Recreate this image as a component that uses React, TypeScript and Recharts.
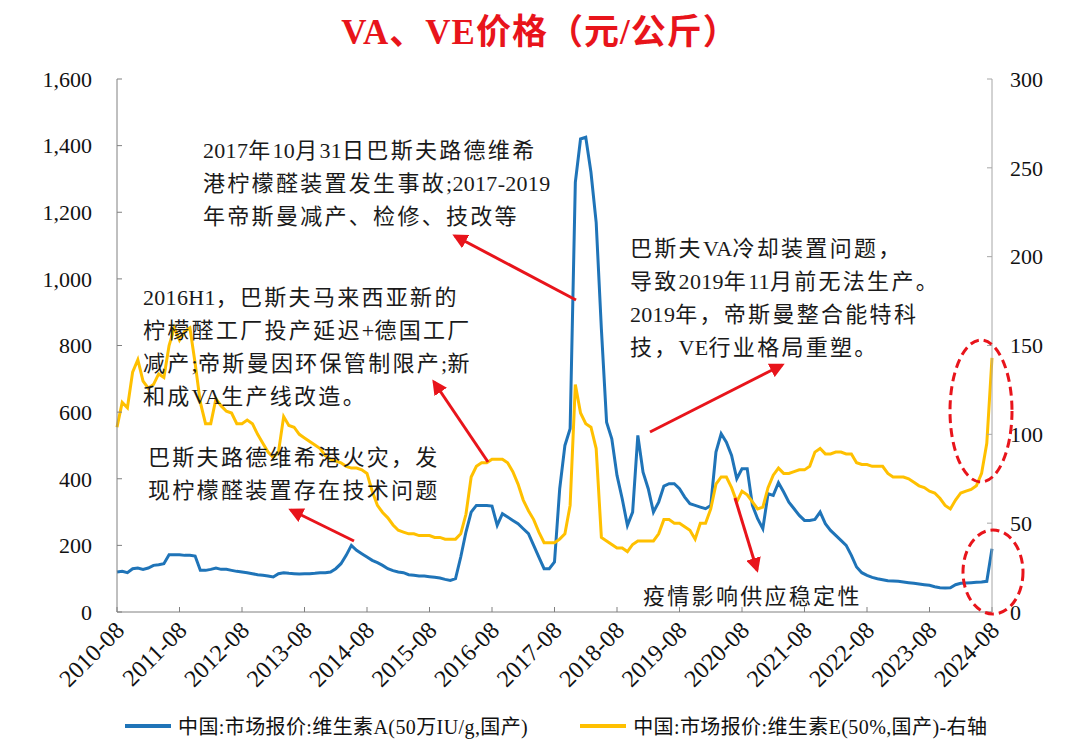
import { LineChart, Line, XAxis, YAxis } from 'recharts'

const FONT = '"Liberation Serif", "Times New Roman", "Noto Sans CJK SC", serif'
const BLUE = '#1f74b8'
const GOLD = '#ffc000'
const RED = '#e8141b'

// monthly categories 2010-08 .. 2024-08
const months: string[] = []
for (let i = 0; i <= 168; i++) {
  const t = 2010 * 12 + 7 + i
  months.push(`${Math.floor(t / 12)}-${String((t % 12) + 1).padStart(2, '0')}`)
}

// 维生素A (50万IU/g) 元/公斤, left axis
const vaPrice = [
  120, 122, 118, 130, 132, 128, 132, 140, 142, 145,
  172, 172, 172, 170, 170, 168, 125, 125, 128, 132,
  128, 128, 125, 122, 120, 118, 115, 112, 110, 108,
  105, 115, 118, 116, 115, 114, 115, 115, 116, 118,
  118, 120, 130, 145, 170, 200, 185, 175, 165, 155,
  148, 140, 130, 124, 120, 118, 112, 110, 108, 108,
  106, 104, 102, 98, 95, 100, 165, 240, 300, 320,
  320, 320, 318, 260, 295, 285, 275, 265, 250, 235,
  200, 165, 130, 130, 150, 370, 500, 550, 1290, 1420,
  1425, 1320, 1170, 850, 570, 520, 410, 340, 260, 300,
  530, 420, 370, 300, 330, 378, 385, 385, 370, 345,
  325, 320, 315, 310, 320, 480, 535, 510, 470, 400,
  430, 430, 320, 280, 250, 355, 350, 388, 360, 330,
  310, 290, 275, 275, 278, 300, 265, 245, 230, 215,
  200, 170, 135, 118, 110, 104, 100, 97, 94, 93,
  92, 90, 88, 86, 84, 82, 80, 76, 73, 72,
  73, 82, 86, 87, 88, 89, 90, 92, 190,
]

// 维生素E (50%) 元/公斤, right axis
const vePrice = [
  104, 118, 115, 135, 142, 130, 126, 128, 134, 132,
  150, 160, 153, 158, 160, 140, 118, 106, 106, 120,
  116, 113, 112, 106, 106, 108, 106, 100, 95, 90,
  87, 90, 110, 105, 104, 100, 98, 96, 94, 92,
  88, 86, 85, 84, 82, 81, 81, 80, 78, 68,
  60, 56, 53, 49, 46, 45, 44, 44, 43, 43,
  43, 42, 42, 41, 41, 41, 44, 55, 76, 82,
  84, 84, 86, 86, 86, 84, 79, 72, 63, 57,
  52, 45, 39, 39, 39, 41, 44, 60, 128, 112,
  106, 104, 92, 42, 40, 38, 36, 36, 34, 38,
  40, 40, 40, 40, 44, 52, 52, 50, 50, 48,
  46, 41, 50, 50, 58, 72, 76, 76, 70, 62,
  68, 66, 62, 58, 59, 70, 77, 81, 78, 78,
  79, 80, 80, 82, 90, 92, 89, 89, 90, 90,
  89, 89, 84, 83, 83, 82, 82, 82, 78, 76,
  76, 76, 75, 73, 71, 70, 68, 67, 64, 60,
  58, 63, 67, 68, 69, 71, 78, 95, 143,
]

const leftTicks = [0, 200, 400, 600, 800, 1000, 1200, 1400, 1600]
const rightTicks = [0, 50, 100, 150, 200, 250, 300]

const notes = [
  { x: 203, y: 158, lines: ['2017年10月31日巴斯夫路德维希', '港柠檬醛装置发生事故;2017-2019', '年帝斯曼减产、检修、技改等'] },
  { x: 143, y: 305, lines: ['2016H1，巴斯夫马来西亚新的', '柠檬醛工厂投产延迟+德国工厂', '减产;帝斯曼因环保管制限产;新', '和成VA生产线改造。'] },
  { x: 148, y: 465, lines: ['巴斯夫路德维希港火灾，发', '现柠檬醛装置存在技术问题'] },
  { x: 630, y: 256, lines: ['巴斯夫VA冷却装置问题，', '导致2019年11月前无法生产。', '2019年，帝斯曼整合能特科', '技，VE行业格局重塑。'] },
  { x: 643, y: 604, lines: ['疫情影响供应稳定性'] },
]

const arrows = [
  [576, 300, 455, 236],
  [488, 462, 434, 382],
  [354, 541, 291, 510],
  [650, 432, 782, 365],
  [735, 498, 757, 570],
]

// split a line into runs of latin / cjk so that only cjk gets wide spacing
function runs(s: string) {
  return s.match(/[\x20-\x7e]+|[^\x20-\x7e]+/g) || []
}

function XTick(props: any) {
  const { x, y, payload } = props
  return (
    <text x={x + 3} y={y} transform={`rotate(-45 ${x + 3} ${y})`} textAnchor="end" dominantBaseline="central"
      fontSize={24} fontFamily={FONT} fill="#111">{payload.value}</text>
  )
}

export default function App() {
  const data = months.map((m, i) => ({ month: m, va: vaPrice[i], ve: vePrice[i] }))
  const tickStyle = { fill: '#111', fontSize: 22, fontFamily: FONT }

  return (
    <div style={{ position: 'absolute', left: 0, top: 0, width: 1080, height: 754, background: '#fff', fontFamily: FONT }}>
      <div style={{ position: 'absolute', top: 12, left: 0, width: 1080, textAlign: 'center', color: RED, fontSize: 35, lineHeight: '42px', fontWeight: 'bold', letterSpacing: 1 }}>
        VA、VE价格（元/公斤）
      </div>
      <LineChart width={1080} height={754} data={data} margin={{ top: 79, right: 28, bottom: 62, left: 57 }}>
        <XAxis dataKey="month" interval={11} height={80} tickSize={-5} tickMargin={19} stroke="#808080" tick={<XTick />} />
        <YAxis yAxisId="left" domain={[0, 1600]} ticks={leftTicks} width={60} tickSize={-5} tickMargin={30}
          stroke="#808080" tick={tickStyle} tickFormatter={(v: number) => v.toLocaleString('en-US')} />
        <YAxis yAxisId="right" orientation="right" domain={[0, 300]} ticks={rightTicks} width={60} tickSize={-5} tickMargin={23}
          stroke="#a6a6a6" tick={tickStyle} />
        <Line yAxisId="left" type="linear" dataKey="va" stroke={BLUE} strokeWidth={3} dot={false} isAnimationActive={false} />
        <Line yAxisId="right" type="linear" dataKey="ve" stroke={GOLD} strokeWidth={3} dot={false} isAnimationActive={false} />
      </LineChart>

      <svg width={1080} height={754} style={{ position: 'absolute', left: 0, top: 0, pointerEvents: 'none' }}>
        <defs>
          <marker id="head" viewBox="0 0 10 10" refX="8" refY="5" markerWidth="5" markerHeight="5" orient="auto">
            <path d="M0,0 L10,5 L0,10 z" fill={RED} />
          </marker>
        </defs>
        {arrows.map(([x1, y1, x2, y2], i) => (
          <line key={i} x1={x1} y1={y1} x2={x2} y2={y2} stroke={RED} strokeWidth={3} markerEnd="url(#head)" />
        ))}
        <ellipse cx={981} cy={411} rx={31} ry={71} fill="none" stroke={RED} strokeWidth={3} strokeDasharray="9 5" />
        <ellipse cx={993} cy={572} rx={30} ry={42} fill="none" stroke={RED} strokeWidth={3} strokeDasharray="9 5" />
        {notes.map((n, i) => (
          <text key={i} fontSize={22} fontFamily={FONT} fill="#1a1a1a">
            {n.lines.map((l, j) => (
              <tspan key={j} x={n.x} y={n.y + j * 33}>
                {runs(l).map((r, k) => (
                  <tspan key={k} style={{ letterSpacing: /^[\x20-\x7e]+$/.test(r) ? 0.3 : 2.3 }}>{r}</tspan>
                ))}
              </tspan>
            ))}
          </text>
        ))}
      </svg>

      <div style={{ position: 'absolute', top: 711, left: 125, display: 'flex', alignItems: 'center', fontSize: 20, letterSpacing: 0.4, color: '#111', whiteSpace: 'nowrap' }}>
        <span style={{ display: 'inline-block', width: 46, height: 4, background: BLUE, marginRight: 7 }} />
        <span>中国:市场报价:维生素A(50万IU/g,国产)</span>
        <span style={{ display: 'inline-block', width: 46, height: 4, background: GOLD, marginLeft: 52, marginRight: 7 }} />
        <span>中国:市场报价:维生素E(50%,国产)-右轴</span>
      </div>
    </div>
  )
}
